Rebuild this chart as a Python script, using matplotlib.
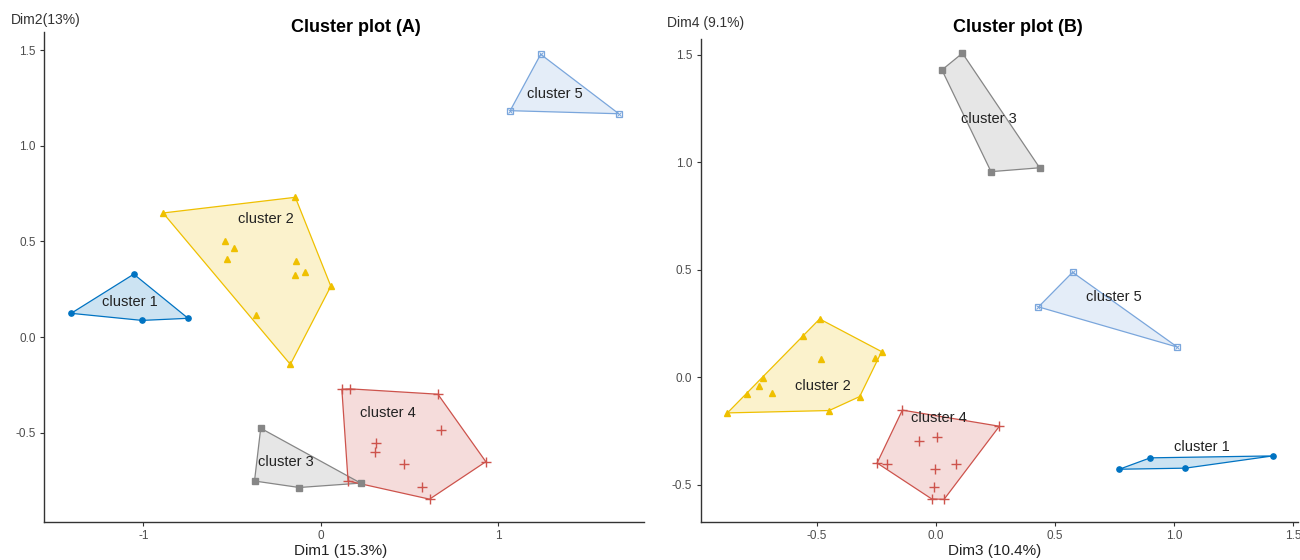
import numpy as np
import matplotlib
matplotlib.use("Agg")
import matplotlib.pyplot as plt

plt.rcParams['font.family'] = ['Liberation Sans', 'DejaVu Sans']

cluster_names = ["cluster 1", "cluster 2", "cluster 3", "cluster 4", "cluster 5"]
cluster_colors = ["#0073C2", "#EFC000", "#868686", "#CD534C", "#7AA6DC"]

# ---- Panel A: Dim1 vs Dim2 ----
a_c1_x = [-1.054, -1.407, -1.007, -0.748]
a_c1_y = [0.329, 0.124, 0.087, 0.098]
a_c2_x = [-0.889, -0.144, 0.056, -0.172, -0.367, -0.541, -0.487, -0.527, -0.139, -0.144, -0.089]
a_c2_y = [0.649, 0.731, 0.266, -0.143, 0.114, 0.502, 0.467, 0.409, 0.399, 0.323, 0.339]
a_c3_x = [-0.339, -0.374, -0.122, 0.224]
a_c3_y = [-0.477, -0.753, -0.787, -0.764]
a_c4_x = [0.118, 0.165, 0.659, 0.929, 0.612, 0.153, 0.678, 0.311, 0.306, 0.468, 0.572]
a_c4_y = [-0.273, -0.271, -0.299, -0.652, -0.848, -0.753, -0.484, -0.552, -0.601, -0.663, -0.785]
a_c5_x = [1.238, 1.066, 1.678]
a_c5_y = [1.479, 1.184, 1.168]
a_label_x = [-1.075, -0.31, -0.2, 0.376, 1.318]
a_label_y = [0.184, 0.617, -0.656, -0.395, 1.269]

# ---- Panel B: Dim3 vs Dim4 ----
b_c1_x = [0.77, 0.90, 1.414, 1.047]
b_c1_y = [-0.427, -0.374, -0.365, -0.422]
b_c2_x = [-0.874, -0.487, -0.227, -0.319, -0.447, -0.555, -0.255, -0.483, -0.726, -0.74, -0.792, -0.688]
b_c2_y = [-0.165, 0.272, 0.12, -0.089, -0.154, 0.194, 0.089, 0.084, -0.002, -0.039, -0.076, -0.073]
b_c3_x = [0.112, 0.026, 0.232, 0.436]
b_c3_y = [1.508, 1.43, 0.957, 0.975]
b_c4_x = [-0.14, 0.267, 0.035, -0.017, -0.246, -0.204, -0.072, 0.005, 0.084, -0.003, -0.009]
b_c4_y = [-0.152, -0.227, -0.567, -0.565, -0.398, -0.401, -0.297, -0.275, -0.404, -0.427, -0.511]
b_c5_x = [0.574, 0.431, 1.014]
b_c5_y = [0.489, 0.328, 0.141]
b_label_x = [1.117, -0.475, 0.225, 0.014, 0.747]
b_label_y = [-0.323, -0.039, 1.201, -0.189, 0.376]

a_xticks = [-1, 0, 1]
a_xticklabels = ["-1", "0", "1"]
b_xticks = [-0.5, 0.0, 0.5, 1.0, 1.5]
b_xticklabels = ["-0.5", "0.0", "0.5", "1.0", "1.5"]
yticks = [-0.5, 0.0, 0.5, 1.0, 1.5]
yticklabels = ["-0.5", "0.0", "0.5", "1.0", "1.5"]


def convex_hull(xs, ys):
    pts = sorted(set(zip(xs, ys)))
    if len(pts) <= 2:
        return pts

    def cross(o, a, b):
        return (a[0] - o[0]) * (b[1] - o[1]) - (a[1] - o[1]) * (b[0] - o[0])

    lower = []
    for p in pts:
        while len(lower) >= 2 and cross(lower[-2], lower[-1], p) <= 0:
            lower.pop()
        lower.append(p)
    upper = []
    for p in reversed(pts):
        while len(upper) >= 2 and cross(upper[-2], upper[-1], p) <= 0:
            upper.pop()
        upper.append(p)
    return lower[:-1] + upper[:-1]


def draw_points(ax, k, xs, ys):
    col = cluster_colors[k]
    if k == 0:
        ax.plot(xs, ys, 'o', color=col, ms=3.8, zorder=4)
    elif k == 1:
        ax.plot(xs, ys, '^', color=col, ms=4.4, zorder=4)
    elif k == 2:
        ax.plot(xs, ys, 's', color=col, ms=3.8, zorder=4)
    elif k == 3:
        ax.plot(xs, ys, '+', color=col, ms=7.5, mew=1.0, zorder=4)
    else:
        ax.plot(xs, ys, 's', mfc='none', mec=col, ms=4.4, mew=0.9, zorder=4)
        ax.plot(xs, ys, 'x', color=col, ms=3.0, mew=0.7, zorder=4)


def panel(ax, clusters, lab_x, lab_y, xlim, ylim, xticks, xticklabels):
    for k, (xs, ys) in enumerate(clusters):
        col = cluster_colors[k]
        hull = convex_hull(xs, ys)
        hx = [p[0] for p in hull]
        hy = [p[1] for p in hull]
        ax.fill(hx, hy, facecolor=col, alpha=0.2, edgecolor='none', zorder=2)
        ax.fill(hx, hy, facecolor='none', edgecolor=col, lw=0.9, zorder=3)
        draw_points(ax, k, xs, ys)
        ax.text(lab_x[k], lab_y[k], cluster_names[k], ha='center', va='center',
                fontsize=10.5, color='#222222', zorder=5)
    ax.set_xlim(*xlim)
    ax.set_ylim(*ylim)
    ax.set_xticks(xticks)
    ax.set_xticklabels(xticklabels)
    ax.set_yticks(yticks)
    ax.set_yticklabels(yticklabels)
    for s in ['top', 'right']:
        ax.spines[s].set_visible(False)
    for s in ['left', 'bottom']:
        ax.spines[s].set_color('#333333')
        ax.spines[s].set_linewidth(1.0)
    ax.tick_params(axis='both', length=3, width=0.8, color='#333333',
                   labelsize=8.5, labelcolor='#4d4d4d', pad=3)


fig = plt.figure(figsize=(13, 5.6), dpi=100)
axA = fig.add_axes([0.0338, 0.068, 0.4616, 0.875])
axB = fig.add_axes([0.539, 0.068, 0.4595, 0.862])

panel(axA,
      [(a_c1_x, a_c1_y), (a_c2_x, a_c2_y), (a_c3_x, a_c3_y), (a_c4_x, a_c4_y), (a_c5_x, a_c5_y)],
      a_label_x, a_label_y, (-1.56, 1.82), (-0.967, 1.596), a_xticks, a_xticklabels)
panel(axB,
      [(b_c1_x, b_c1_y), (b_c2_x, b_c2_y), (b_c3_x, b_c3_y), (b_c4_x, b_c4_y), (b_c5_x, b_c5_y)],
      b_label_x, b_label_y, (-0.986, 1.52), (-0.672, 1.573), b_xticks, b_xticklabels)

fig.text(0.274, 0.95, "Cluster plot (A)", ha='center', va='center', fontsize=13, fontweight='bold')
fig.text(0.783, 0.95, "Cluster plot (B)", ha='center', va='center', fontsize=13, fontweight='bold')
fig.text(0.008, 0.964, "Dim2(13%)", ha='left', va='center', fontsize=10, color='#333333')
fig.text(0.513, 0.959, "Dim4 (9.1%)", ha='left', va='center', fontsize=10, color='#333333')
fig.text(0.262, 0.016, "Dim1 (15.3%)", ha='center', va='center', fontsize=11, color='#222222')
fig.text(0.765, 0.016, "Dim3 (10.4%)", ha='center', va='center', fontsize=11, color='#222222')

fig.savefig("out.png", dpi=100)
